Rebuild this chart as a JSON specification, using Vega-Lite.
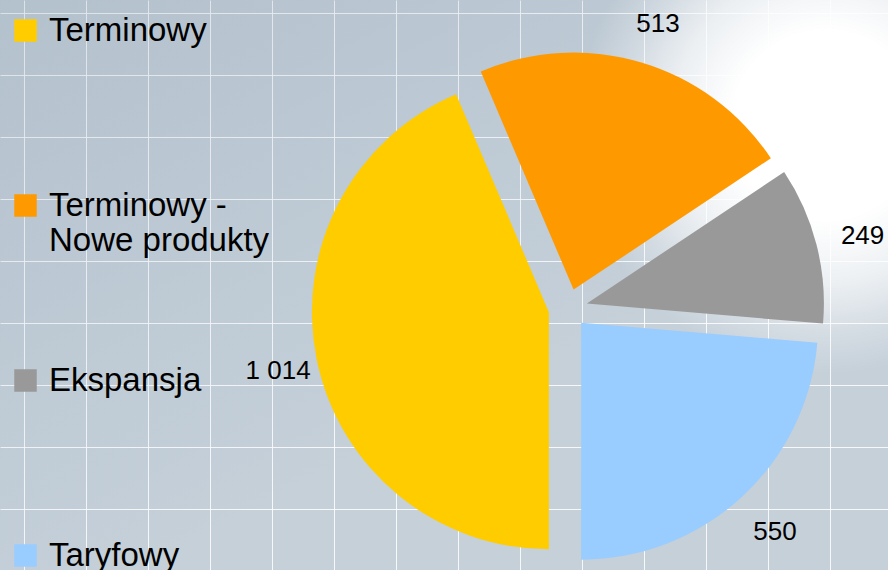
{
  "$schema": "https://vega.github.io/schema/vega-lite/v6.json",
  "width": 888,
  "height": 570,
  "padding": 0,
  "autosize": {"type": "none"},
  "background": "#c5d0d9",
  "config": {
    "view": {"stroke": null},
    "locale": {
      "number": {"decimal": ",", "thousands": " ", "grouping": [3], "currency": ["", " zł"]}
    }
  },
  "data": {
    "values": [
      {"cat": "Terminowy", "value": 1014},
      {"cat": "Terminowy - Nowe produkty", "value": 513},
      {"cat": "Ekspansja", "value": 249},
      {"cat": "Taryfowy", "value": 550}
    ]
  },
  "transform": [
    {"stack": "value", "groupby": [], "sort": [{"field": "cat", "order": "ascending"}], "as": ["v0", "v1"]}
  ],
  "layer": [
    {
      "data": {"values": [{}]},
      "transform": [],
      "mark": {
        "type": "rect",
        "color": {
          "gradient": "linear",
          "x1": 0, "y1": 0, "x2": 0.55, "y2": 0.7,
          "stops": [
            {"offset": 0, "color": "rgba(110,135,160,0.2)"},
            {"offset": 1, "color": "rgba(110,135,160,0)"}
          ]
        }
      },
      "encoding": {
        "x": {
          "datum": -0.7742, "type": "quantitative",
          "scale": {"domain": [-0.7742, 27.871], "nice": false, "zero": false},
          "axis": {
            "values": [0,1,2,3,4,5,6,7,8,9,10,11,12,13,14,15,16,17,18,19,20,21,22,23,24,25,26,27],
            "grid": true, "labels": false, "ticks": false, "domain": false, "title": null,
            "gridColor": "#ffffff", "gridOpacity": 0.85, "gridWidth": 1
          }
        },
        "x2": {"datum": 27.871},
        "y": {
          "datum": -0.41935, "type": "quantitative",
          "scale": {"domain": [-0.41935, 17.9677], "reverse": true, "nice": false, "zero": false},
          "axis": {
            "values": [0,1,2,3,4,5,6,7,8,9,10,11,12,13,14,15,16,17,18],
            "grid": true, "labels": false, "ticks": false, "domain": false, "title": null,
            "gridColor": "#ffffff", "gridOpacity": 0.85, "gridWidth": 1
          }
        },
        "y2": {"datum": 17.9677}
      }
    },
    {
      "data": {"values": [{}]},
      "transform": [],
      "mark": {
        "type": "rect",
        "color": {
          "gradient": "radial",
          "x1": 0.93, "y1": 0.32, "r1": 0,
          "x2": 0.93, "y2": 0.32, "r2": 0.28,
          "stops": [
            {"offset": 0, "color": "rgba(255,255,255,1)"},
            {"offset": 0.38, "color": "rgba(255,255,255,1)"},
            {"offset": 0.62, "color": "rgba(255,255,255,0.7)"},
            {"offset": 0.82, "color": "rgba(255,255,255,0.3)"},
            {"offset": 1, "color": "rgba(255,255,255,0)"}
          ]
        }
      },
      "encoding": {
        "x": {"datum": -0.7742, "type": "quantitative"},
        "x2": {"datum": 27.871},
        "y": {"datum": -0.41935, "type": "quantitative"},
        "y2": {"datum": 17.9677}
      }
    },
    {
      "transform": [{"filter": "datum.cat === 'Terminowy'"}],
      "mark": {"type": "arc", "radius": 237, "xOffset": 104.9, "yOffset": 27.2},
      "encoding": {
        "theta": {"field": "v0", "type": "quantitative", "scale": {"domain": [0, 2326], "range": [0.98327, 7.26646], "nice": false, "zero": true}},
        "theta2": {"field": "v1"},
        "color": {"field": "cat", "type": "nominal"}
      }
    },
    {
      "transform": [{"filter": "datum.cat === 'Terminowy - Nowe produkty'"}],
      "mark": {"type": "arc", "radius": 237, "xOffset": 129.6, "yOffset": 4.6},
      "encoding": {
        "theta": {"field": "v0", "type": "quantitative"},
        "theta2": {"field": "v1"},
        "color": {"field": "cat", "type": "nominal"}
      }
    },
    {
      "transform": [{"filter": "datum.cat === 'Ekspansja'"}],
      "mark": {"type": "arc", "radius": 237, "xOffset": 142.9, "yOffset": 18.45},
      "encoding": {
        "theta": {"field": "v0", "type": "quantitative"},
        "theta2": {"field": "v1"},
        "color": {"field": "cat", "type": "nominal"}
      }
    },
    {
      "transform": [{"filter": "datum.cat === 'Taryfowy'"}],
      "mark": {"type": "arc", "radius": 237, "xOffset": 137.2, "yOffset": 37.7},
      "encoding": {
        "theta": {"field": "v0", "type": "quantitative"},
        "theta2": {"field": "v1"},
        "color": {
          "field": "cat", "type": "nominal",
          "scale": {
            "domain": ["Terminowy", "Terminowy - Nowe produkty", "Ekspansja", "Taryfowy"],
            "range": ["#FFCC00", "#FF9900", "#999999", "#99CCFF"]
          },
          "legend": {
            "title": null,
            "orient": "none",
            "legendX": 9,
            "legendY": 14,
            "padding": 0,
            "symbolType": "square",
            "symbolSize": 506,
            "symbolStrokeWidth": 0,
            "symbolOpacity": 1,
            "labelFont": "Liberation Sans",
            "labelFontSize": 33,
            "labelColor": "#000000",
            "labelOffset": 7,
            "labelLimit": 400,
            "rowPadding": 106,
            "labelExpr": "datum.label == 'Terminowy - Nowe produkty' ? ['Terminowy -', 'Nowe produkty'] : [datum.label, '']"
          }
        }
      }
    },
    {
      "mark": {"type": "text", "radius": 300, "xOffset": 128, "yOffset": 26, "fontSize": 26, "font": "Liberation Sans", "color": "#000000"},
      "encoding": {
        "theta": {"field": "value", "type": "quantitative", "stack": true},
        "order": {"field": "cat", "type": "nominal", "sort": "ascending"},
        "detail": {"field": "cat", "type": "nominal"},
        "text": {"field": "value", "type": "quantitative", "format": ",d"}
      }
    }
  ]
}
